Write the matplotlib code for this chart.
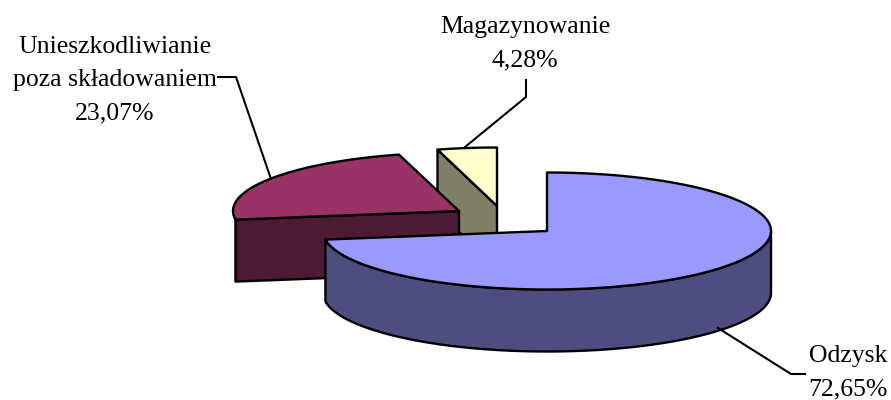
import numpy as np
import matplotlib
matplotlib.use("Agg")
import matplotlib.pyplot as plt
from matplotlib.patches import Polygon

labels = ["Odzysk", "Unieszkodliwianie\npoza składowaniem", "Magazynowanie"]
shares = [72.65, 23.07, 4.28]
share_text = ["72,65%", "23,07%", "4,28%"]

top_colors = ["#9999FF", "#993366", "#FFFFCC"]
side_colors = ["#4D4D80", "#4D1933", "#808066"]
centers = [(547, 231), (459, 211), (497, 206)]
radii = [224, 226, 224]

RY = 58.5
DEPTH = 62
LW = 1.7

plt.rcParams["font.family"] = ["Liberation Serif", "DejaVu Serif"]

fig = plt.figure(figsize=(8.91, 4.0), dpi=100)
ax = fig.add_axes([0, 0, 1, 1])
ax.set_xlim(0, 891)
ax.set_ylim(400, 0)
ax.axis("off")


def rim(c, rx, a0, a1):
    # a0 -> a1 in degrees, math convention, flattened ellipse
    t = np.radians(np.linspace(a0, a1, 200))
    return np.c_[c[0] + rx * np.cos(t), c[1] - RY * np.sin(t)]


def face(pts, color, z):
    ax.add_patch(Polygon(pts, closed=True, fc=color, ec="black", lw=LW, joinstyle="round", zorder=z))


# wedges run clockwise from 12 o'clock
ends = 90 - np.cumsum(shares) * 3.6
starts = np.r_[90, ends[:-1]]

# back to front: smallest slice, then the red one, then the big one
for i in [2, 1, 0]:
    c = np.array(centers[i], float)
    rx = radii[i]
    a0, a1 = starts[i], ends[i]
    z = (3 - i) * 10
    down = np.array([0, DEPTH])
    p_start = rim(c, rx, a0, a0)[0]

    if i == 0:
        # outer wall, only the part of the rim facing the viewer
        wall = rim(c, rx, 0, a1)
        face(np.r_[wall, (wall + down)[::-1]], side_colors[i], z)
    else:
        # the other two only show the straight cut
        face(np.array([p_start, c, c + down, p_start + down]), side_colors[i], z)

    face(np.r_[[c], rim(c, rx, a0, a1)], top_colors[i], z + 1)

# leader lines
ax.plot([218, 236, 271], [77, 77, 179], color="black", lw=1.5, zorder=50)
ax.plot([526, 526, 465], [80, 97, 147], color="black", lw=1.5, zorder=5)
ax.plot([718, 791, 805], [328, 374, 374], color="black", lw=1.5, zorder=50)

# labels
fs = 18.5
ls = 1.66
ax.text(115, 80, labels[1] + "\n" + share_text[1], ha="center", va="center", fontsize=fs, linespacing=ls, color="black")
ax.text(525, 44, labels[2] + "\n" + share_text[2], ha="center", va="center", fontsize=fs, linespacing=ls, color="black")
ax.text(848, 373, labels[0] + "\n" + share_text[0], ha="center", va="center", fontsize=fs, linespacing=ls, color="black")

fig.savefig("out.png", dpi=100)
